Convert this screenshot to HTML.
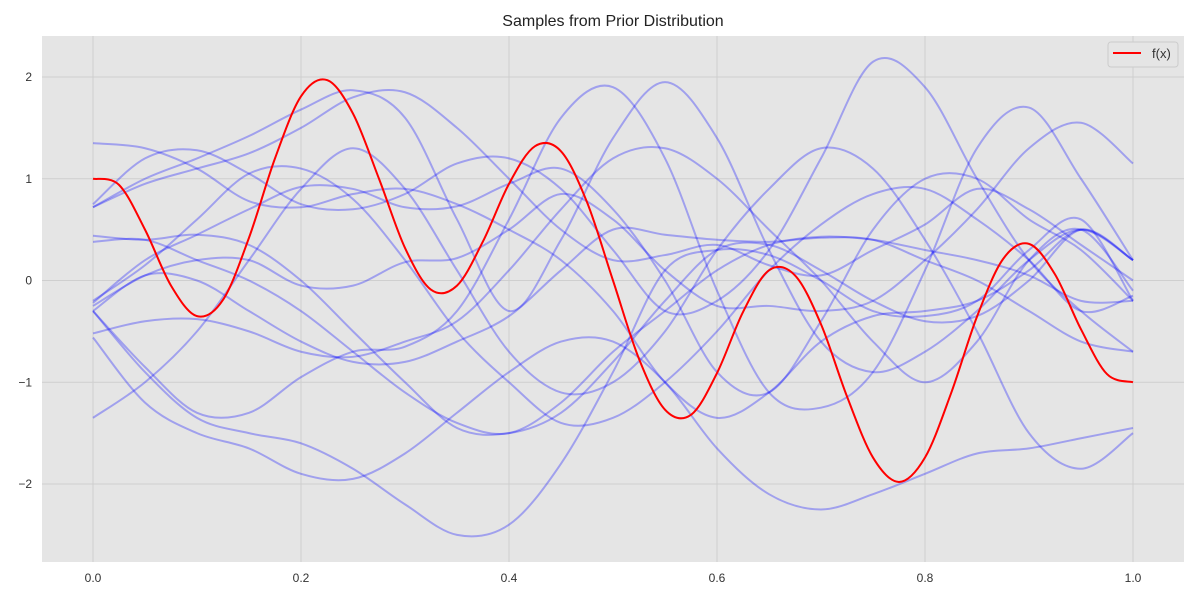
<!DOCTYPE html>
<html><head><meta charset="utf-8"><style>
body{margin:0;background:#fff;font-family:"Liberation Sans",sans-serif}
svg text{font-family:"Liberation Sans",sans-serif}
</style></head><body>
<svg id="chart" width="1200" height="600">
<rect x="0" y="0" width="1200" height="600" fill="#fff"/>
<text x="613" y="26" text-anchor="middle" font-size="16" fill="#222">Samples from Prior Distribution</text>
<rect x="42" y="36" width="1142" height="526" fill="#e5e5e5"/>
<g id="grid"></g><g id="ticks"></g>
<defs><clipPath id="clip"><rect x="42" y="36" width="1142" height="526"/></clipPath></defs>
<g id="samples" clip-path="url(#clip)"></g>
<g id="truth" clip-path="url(#clip)"></g>
<g>
<rect x="1108" y="42" width="70" height="25" rx="3" fill="#e5e5e5" stroke="#ccc"/>
<line x1="1113" y1="53" x2="1141" y2="53" stroke="red" stroke-width="2"/>
<text x="1152" y="58" font-size="13" fill="#333">f(x)</text>
</g>
</svg>
<script>
const xTicks=[0,0.2,0.4,0.6,0.8,1.0];
const yTicks=[-2,-1,0,1,2];
const sampleX=[0,0.05,0.1,0.15,0.2,0.25,0.3,0.35,0.4,0.45,0.5,0.55,0.6,0.65,0.7,0.75,0.8,0.85,0.9,0.95,1.0];
const s1=[0.72,1.0,1.2,1.42,1.68,1.87,1.6,0.6,-0.3,0.4,1.4,1.95,1.4,0.3,-0.6,-0.9,-0.7,-0.3,0.2,0.5,0.2];
const s2=[1.35,1.3,1.1,0.78,0.72,0.85,0.9,0.75,0.5,0.2,-0.3,-1.0,-1.35,-1.1,-0.6,-0.35,-0.3,-0.2,0.1,0.5,0.2];
const s3=[0.75,1.2,1.28,1.05,0.75,0.7,0.85,1.15,1.2,0.9,0.3,-0.3,-0.2,0.3,1.2,2.15,1.9,1.0,0.2,-0.3,-0.7];
const s4=[0.44,0.4,0.45,0.35,0.0,-0.5,-1.0,-1.45,-1.5,-1.3,-0.8,-0.2,0.3,0.35,0.1,-0.2,-0.4,-0.35,0.0,0.5,0.2];
const s5=[0.38,0.4,0.2,0.0,-0.3,-0.7,-1.1,-1.4,-1.5,-1.2,-0.7,-0.3,0.1,0.35,0.43,0.4,0.3,0.2,0.05,-0.2,-0.2];
const s6=[-0.2,0.15,0.6,1.05,1.1,0.8,0.2,-0.5,-1.0,-1.4,-1.35,-1.0,-0.5,0.1,0.55,0.85,0.9,0.6,0.2,-0.3,-0.15];
const s7=[-0.22,0.2,0.45,0.7,0.92,0.9,0.72,0.73,0.95,1.1,0.7,0.0,-0.9,-1.1,-0.4,0.5,1.0,1.0,0.6,0.3,-0.2];
const s8=[-0.25,0.05,0.2,0.2,-0.05,-0.05,0.18,0.22,0.5,0.85,0.6,0.1,-0.25,-0.25,-0.3,-0.2,0.2,0.7,1.3,1.55,1.15];
const s9=[-0.3,0.05,0.0,-0.3,-0.6,-0.8,-0.8,-0.6,-0.35,0.1,0.5,0.45,0.4,0.38,0.42,0.4,0.2,0.0,-0.3,-0.6,-0.7];
const s10=[-0.3,-0.85,-1.3,-1.3,-0.95,-0.7,-0.65,-0.3,0.6,1.6,1.9,1.2,-0.1,-1.1,-1.25,-0.9,0.1,1.3,1.7,1.0,0.2];
const s11=[-0.52,-0.4,-0.38,-0.5,-0.7,-0.75,-0.6,-0.4,0.1,0.7,1.2,1.3,1.0,0.5,0.0,-0.6,-1.0,-0.6,0.2,0.5,-0.1];
const s12=[-0.56,-1.2,-1.5,-1.65,-1.9,-1.95,-1.7,-1.3,-0.9,-0.6,-0.6,-1.0,-1.65,-2.1,-2.25,-2.1,-1.9,-1.7,-1.65,-1.55,-1.45];
const s13=[-1.35,-1.0,-0.5,0.2,0.9,1.3,0.9,0.1,-0.7,-1.1,-1.0,-0.5,0.3,0.9,1.3,1.1,0.4,-0.5,-1.5,-1.85,-1.5];
const s14=[-0.3,-0.9,-1.35,-1.5,-1.6,-1.85,-2.2,-2.5,-2.4,-1.8,-0.9,0.1,0.3,0.25,0.0,-0.3,-0.35,-0.2,0.3,0.6,-0.2];
const s15=[0.72,0.95,1.1,1.25,1.5,1.8,1.85,1.5,1.0,0.5,0.2,0.25,0.35,0.15,0.05,0.3,0.55,0.9,0.7,0.35,0.0];
const samples=[s1,s2,s3,s4,s5,s6,s7,s8,s9,s10,s11,s12,s13,s14,s15];
const fX=[0,0.025,0.05,0.075,0.1,0.125,0.15,0.175,0.2,0.225,0.25,0.275,0.3,0.325,0.35,0.375,0.4,0.425,0.45,0.475,0.5,0.525,0.55,0.575,0.6,0.625,0.65,0.675,0.7,0.725,0.75,0.775,0.8,0.825,0.85,0.875,0.9,0.925,0.95,0.975,1.0];
const fY=[1.0,0.94,0.5,-0.05,-0.35,-0.19,0.42,1.2,1.81,1.97,1.64,1.0,0.32,-0.09,-0.05,0.385,0.95,1.32,1.27,0.77,0.0,-0.77,-1.27,-1.32,-0.91,-0.31,0.1,0.05,-0.43,-1.14,-1.74,-1.98,-1.74,-1.11,-0.355,0.21,0.36,0.06,-0.48,-0.92,-1.0];

const X=v=>93+v*1040, Y=v=>280.5-v*101.75;
const NS='http://www.w3.org/2000/svg';
function mk(tag,attrs,parent){const e=document.createElementNS(NS,tag);for(const k in attrs)e.setAttribute(k,attrs[k]);parent.appendChild(e);return e;}
function path(xs,ys){
  const p=xs.map((x,i)=>[X(x),Y(ys[i])]);
  let d='M'+p[0][0]+','+p[0][1];
  for(let i=0;i<p.length-1;i++){
    const p0=p[Math.max(0,i-1)],p1=p[i],p2=p[i+1],p3=p[Math.min(p.length-1,i+2)];
    const c1=[p1[0]+(p2[0]-p0[0])/6,p1[1]+(p2[1]-p0[1])/6];
    const c2=[p2[0]-(p3[0]-p1[0])/6,p2[1]-(p3[1]-p1[1])/6];
    d+=' C'+c1+' '+c2+' '+p2;
  }
  return d;
}
const grid=document.getElementById('grid'),ticks=document.getElementById('ticks');
xTicks.forEach(t=>{
  const l=mk('line',{x1:X(t),x2:X(t),y1:36,y2:562,stroke:'#cfcfcf','stroke-width':1},grid);
  
  
  const tx=mk('text',{x:X(t),y:582,'text-anchor':'middle','font-size':12,fill:'#333'},ticks);
  tx.textContent=t.toFixed(1);
  
  
});
yTicks.forEach(t=>{
  const l=mk('line',{x1:42,x2:1184,y1:Y(t),y2:Y(t),stroke:'#cfcfcf','stroke-width':1},grid);
  
  
  const tx=mk('text',{x:32,y:Y(t)+4,'text-anchor':'end','font-size':12,fill:'#333'},ticks);
  tx.textContent=t<0?'\u2212'+Math.abs(t):String(t);
  
  
});
const sg=document.getElementById('samples');
samples.forEach(s=>{
  const e=mk('path',{d:path(sampleX,s),fill:'none',stroke:'#0000ff','stroke-opacity':0.3,'stroke-width':2},sg);
  
  
});
const r=mk('path',{d:path(fX,fY),fill:'none',stroke:'red','stroke-width':2},document.getElementById('truth'));


</script>
</body></html>
